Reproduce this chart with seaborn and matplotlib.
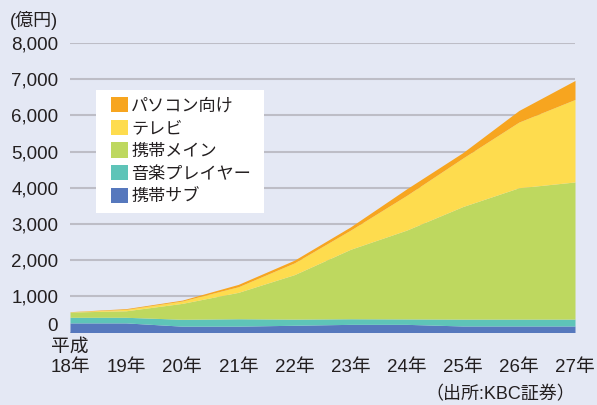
import matplotlib
matplotlib.use("Agg")
import matplotlib.pyplot as plt
import matplotlib.patches as mpatches
import seaborn as sns

# Data (億円, stacked layers bottom -> top)
years = ["18年", "19年", "20年", "21年", "22年", "23年", "24年", "25年", "26年", "27年"]
labels = ["携帯サブ", "音楽プレイヤー", "携帯メイン", "テレビ", "パソコン向け"]
sub_phone = [265, 265, 175, 175, 200, 225, 225, 180, 180, 180]
music_player = [155, 155, 190, 205, 170, 155, 150, 190, 190, 190]
main_phone = [145, 180, 440, 730, 1230, 1920, 2455, 3110, 3630, 3790]
tv = [5, 40, 65, 155, 325, 530, 960, 1340, 1815, 2280]
pc = [5, 20, 25, 65, 75, 90, 180, 150, 320, 525]
colors = ["#5678bd", "#5ec4b8", "#bed85f", "#fedc4e", "#f7a51f"]

bg = "#e4e8f4"
txt = "#231f20"
sns.set_theme(style="whitegrid")
plt.rcParams["font.family"] = ["Liberation Sans", "Noto Sans CJK JP"]

fig = plt.figure(figsize=(5.97, 4.05), dpi=100, facecolor=bg)
ax = fig.add_axes([70 / 597, 1 - 332.5 / 405, 505 / 597, 289.5 / 405])
ax.set_facecolor(bg)

x = list(range(len(years)))
ax.stackplot(x, sub_phone, music_player, main_phone, tv, pc,
             colors=colors, labels=labels, linewidth=0, zorder=2)

yt = list(range(0, 8001, 1000))
ax.set_xlim(0, len(years) - 1)
ax.set_ylim(0, 8000)
ax.set_yticks(yt)
# the "0" label sits a little higher, drawn separately below
ax.set_yticklabels([f"{v:,}" if v else "" for v in yt])
ax.set_xticks(x)
ax.set_xticklabels(years)
ax.tick_params(axis="y", labelsize=13.5, pad=8.5, length=0, colors=txt)
ax.tick_params(axis="x", labelsize=13.5, pad=19, length=0, colors=txt)
ax.grid(axis="y", color="#bdbdc6", linewidth=1.5, zorder=1)
ax.grid(axis="x", visible=False)
for s in ax.spines.values():
    s.set_visible(False)

ax.annotate("0", xy=(0, 0), xycoords=("axes fraction", "data"), xytext=(-8.5, 4),
            textcoords="offset points", ha="right", va="center",
            fontsize=13.5, color=txt)

# era label above the first year
ax.text(0, -0.052, "平成", transform=ax.get_xaxis_transform(), ha="center",
        va="center", fontsize=13.5, color=txt)

# legend on a white box, top entry first
ax.add_patch(mpatches.Rectangle((0.0515, 0.414), 0.333, 0.424, transform=ax.transAxes,
                                facecolor="white", edgecolor="none", zorder=3))
h, l = ax.get_legend_handles_labels()
leg = ax.legend(h[::-1], l[::-1], loc="upper left", bbox_to_anchor=(0.081, 0.813),
                frameon=False, fontsize=12.3, borderpad=0, borderaxespad=0,
                handlelength=1.0, handleheight=1.0, handletextpad=0.2,
                labelspacing=0.36)
leg.set_zorder(4)
for t in leg.get_texts():
    t.set_color(txt)

fig.text(10 / 597, 1 - 20 / 405, "(億円)", fontsize=13, va="center", ha="left",
         color=txt)
fig.text(575 / 597, 1 - 395 / 405, "（出所:KBC証券）", fontsize=13, va="center",
         ha="right", color=txt)

fig.savefig("out.png", dpi=100, facecolor=bg)
